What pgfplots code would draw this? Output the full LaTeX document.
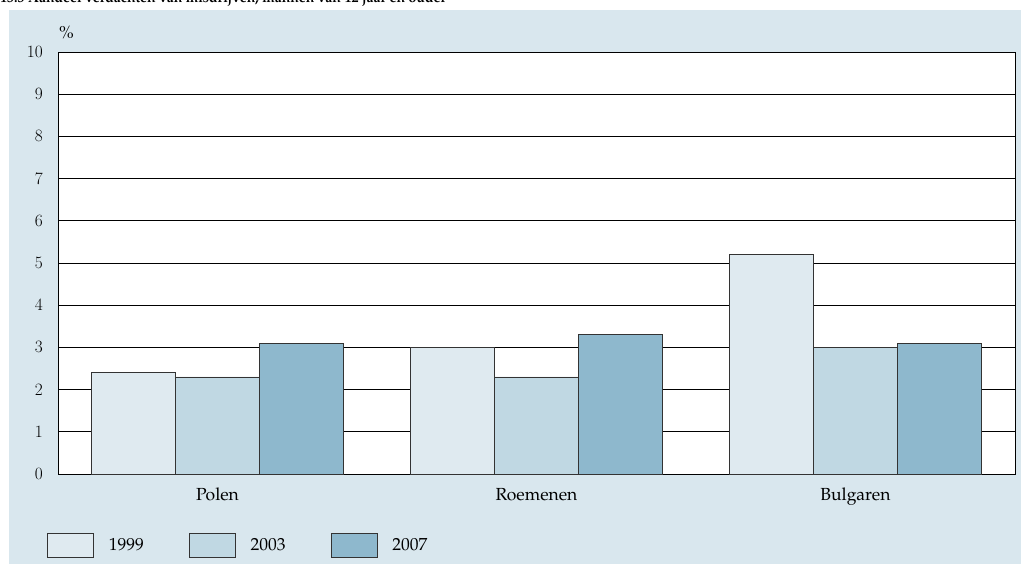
\documentclass[border=0pt]{standalone}
\usepackage{fontspec}
\setmainfont{TeX Gyre Pagella}
\usepackage{pgfplots}
\pgfplotsset{compat=1.18}
\definecolor{bg}{HTML}{D9E7EE}
\definecolor{c1}{HTML}{DFEAF0}
\definecolor{c2}{HTML}{C0D8E3}
\definecolor{c3}{HTML}{8EB8CD}
\pgfplotstableread{
x y1999 y2003 y2007
0 2.4 2.3 3.1
1 3.0 2.3 3.3
2 5.2 3.0 3.1
}\datatable
\begin{document}
\begin{tikzpicture}
\useasboundingbox (0pt,0pt) rectangle (1021pt,564pt);
\clip (0pt,0pt) rectangle (1021pt,564pt);
\fill[bg] (9pt,0pt) rectangle (1021pt,554pt);
\node[anchor=base west, font=\fontsize{14}{16}\selectfont\bfseries, inner sep=0pt] at (0pt,561pt) {13.3 Aandeel verdachten van misdrijven, mannen van 12 jaar en ouder};
\begin{axis}[
  at={(58pt,90pt)}, anchor=south west, scale only axis,
  width=957pt, height=422pt,
  xmin=-0.5, xmax=2.5, ymin=0, ymax=10,
  ytick={0,1,...,10}, xtick={0,1,2}, xticklabels={Polen,Roemenen,Bulgaren},
  ybar=0pt, bar width=84pt,
  ymajorgrids, grid style={black, line width=0.6pt},
  major tick length=0pt,
  axis line style={black, line width=0.8pt},
  axis background/.style={fill=white},
  tick label style={font=\fontsize{17.5}{20}\selectfont},
  yticklabel style={inner sep=0pt, xshift=-15pt},
  xticklabel style={inner sep=0pt, yshift=-14pt},
  every axis plot post/.append style={legend image code/.code={\draw[#1,draw=black!80,line width=0.7pt] (0pt,-12pt) rectangle (46pt,12pt);}},
  legend style={at={(axis description cs:-0.0115,-0.168)}, anchor=west, draw=none, fill=none, legend columns=3, inner sep=0pt,
    nodes={inner sep=0pt, font=\fontsize{17.5}{20}\selectfont},
    /tikz/every odd column/.append style={column sep=15pt},
    /tikz/every even column/.append style={column sep=45pt}},
  clip=false,
]
\addplot[fill=c1, draw=black!80, line width=0.7pt] table[x=x,y=y1999]{\datatable};
\addplot[fill=c2, draw=black!80, line width=0.7pt] table[x=x,y=y2003]{\datatable};
\addplot[fill=c3, draw=black!80, line width=0.7pt] table[x=x,y=y2007]{\datatable};
\legend{1999,2003,2007}
\node[anchor=south west, inner sep=0pt, font=\fontsize{17.5}{20}\selectfont] at (axis description cs:0,1) [xshift=1pt, yshift=13pt] {\%};
\end{axis}
\end{tikzpicture}
\end{document}
